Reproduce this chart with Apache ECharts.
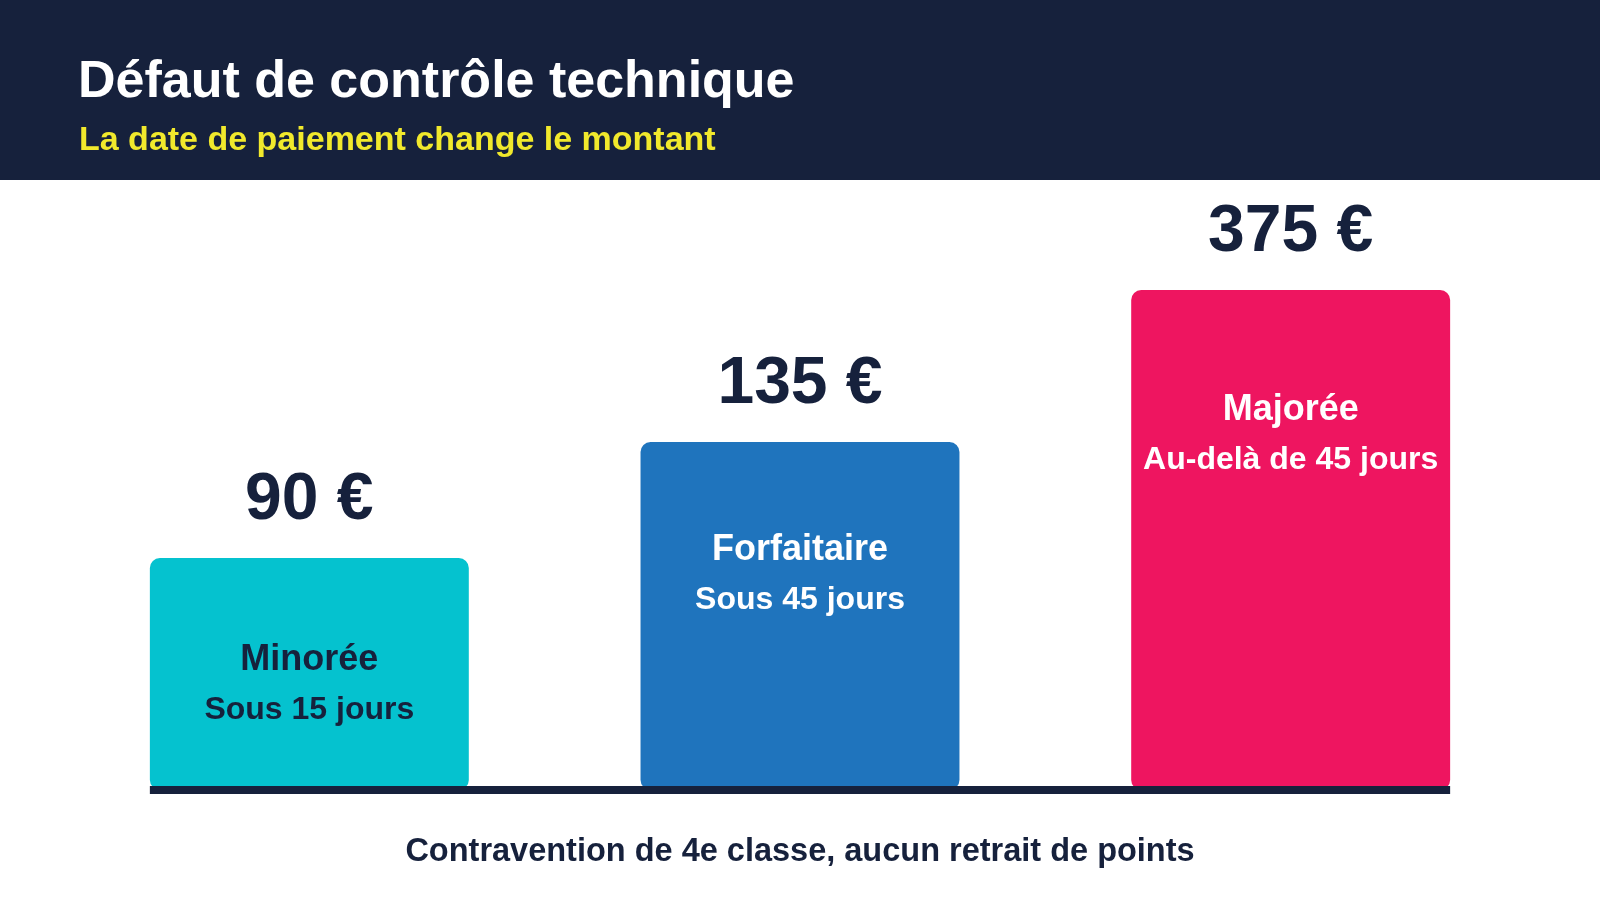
<!DOCTYPE html>
<html>
<head>
<meta charset="utf-8">
<script src="https://cdn.jsdelivr.net/npm/echarts@6/dist/echarts.min.js"></script>
<style>
  html, body { margin: 0; padding: 0; background: #ffffff; }
  #chart { width: 1600px; height: 900px; }
</style>
</head>
<body>
<div id="chart"></div>
<script>
// ---- Data ----
const categories = ['Minorée', 'Forfaitaire', 'Majorée'];
const delays = ['Sous 15 jours', 'Sous 45 jours', 'Au-delà de 45 jours'];
const amounts = [90, 135, 375];
const titleText = 'Défaut de contrôle technique';
const subtitleText = 'La date de paiement change le montant';
const footnoteText = 'Contravention de 4e classe, aucun retrait de points';

// ---- Styles ----
const FONT = '"Liberation Sans", Arial, Helvetica, sans-serif';
const NAVY = '#16213c';
const YELLOW = '#f1e92c';
const barColors = ['#05c2cf', '#1f74bd', '#ee1560'];
const innerTextColors = [NAVY, '#ffffff', '#ffffff'];
const innerLabelTop = [77, 83, 95];

const chart = echarts.init(document.getElementById('chart'), null, { renderer: 'canvas' });

const valueData = amounts.map((v, i) => ({
  value: v,
  itemStyle: { color: barColors[i] }
}));

const textData = amounts.map((v, i) => ({
  value: v,
  label: {
    position: ['50%', innerLabelTop[i]],
    rich: {
      a: { fontFamily: FONT, fontWeight: 'bold', fontSize: 36, lineHeight: 50, color: innerTextColors[i], align: 'center' },
      b: { fontFamily: FONT, fontWeight: 'bold', fontSize: 32, lineHeight: 50, color: innerTextColors[i], align: 'center' }
    }
  }
}));

const option = {
  backgroundColor: '#ffffff',
  animation: false,
  title: [
    {
      text: titleText, left: 78, top: 57, padding: 0,
      textStyle: { fontFamily: FONT, fontWeight: 'bold', fontSize: 52, lineHeight: 52, color: '#ffffff' }
    },
    {
      text: subtitleText, left: 79, top: 124, padding: 0,
      textStyle: { fontFamily: FONT, fontWeight: 'bold', fontSize: 34, lineHeight: 34, color: YELLOW }
    },
    {
      text: footnoteText, left: 'center', top: 836, padding: 0,
      textStyle: { fontFamily: FONT, fontWeight: 'bold', fontSize: 32.5, lineHeight: 32, color: NAVY }
    }
  ],
  grid: { left: 64, right: 64, top: 290, bottom: 110, containLabel: false },
  xAxis: {
    type: 'category',
    data: categories,
    axisLine: { show: false },
    axisTick: { show: false },
    axisLabel: { show: false }
  },
  yAxis: {
    type: 'value',
    min: 0,
    max: 194,
    show: false,
    splitLine: { show: false }
  },
  graphic: [
    {
      type: 'rect', z: -10, silent: true,
      shape: { x: 0, y: 0, width: 1600, height: 180 },
      style: { fill: NAVY }
    }
  ],
  series: [
    {
      type: 'bar',
      name: 'Montant',
      data: valueData,
      barWidth: '65%',
      barGap: '-100%',
      clip: true,
      silent: true,
      itemStyle: { borderRadius: 10 },
      label: {
        show: true,
        position: 'top',
        distance: 24,
        formatter: (p) => p.value + ' €',
        fontFamily: FONT,
        fontWeight: 'bold',
        fontSize: 66,
        lineHeight: 66,
        color: NAVY
      }
    },
    {
      type: 'bar',
      name: 'Libellé',
      data: textData,
      barWidth: '65%',
      barGap: '-100%',
      clip: true,
      silent: true,
      z: 3,
      itemStyle: { color: 'rgba(0,0,0,0)' },
      label: {
        show: true,
        align: 'center',
        verticalAlign: 'top',
        formatter: (p) => '{a|' + categories[p.dataIndex] + '}\n{b|' + delays[p.dataIndex] + '}'
      }
    }
  ]
};

chart.setOption(option);

// Baseline spanning from first bar's left edge to last bar's right edge, via library scales
const p0 = chart.convertToPixel({ gridIndex: 0 }, [0, 0]);
const pN = chart.convertToPixel({ gridIndex: 0 }, [categories.length - 1, 0]);
const band = (pN[0] - p0[0]) / (categories.length - 1);
const half = band * 0.65 / 2;
chart.setOption({
  graphic: [
    {
      type: 'rect', z: -10, silent: true,
      shape: { x: 0, y: 0, width: 1600, height: 180 },
      style: { fill: NAVY }
    },
    {
      type: 'rect', z: 100, silent: true,
      shape: { x: p0[0] - half, y: p0[1] - 4, width: (pN[0] + half) - (p0[0] - half), height: 8 },
      style: { fill: NAVY }
    }
  ]
});
</script>
</body>
</html>
